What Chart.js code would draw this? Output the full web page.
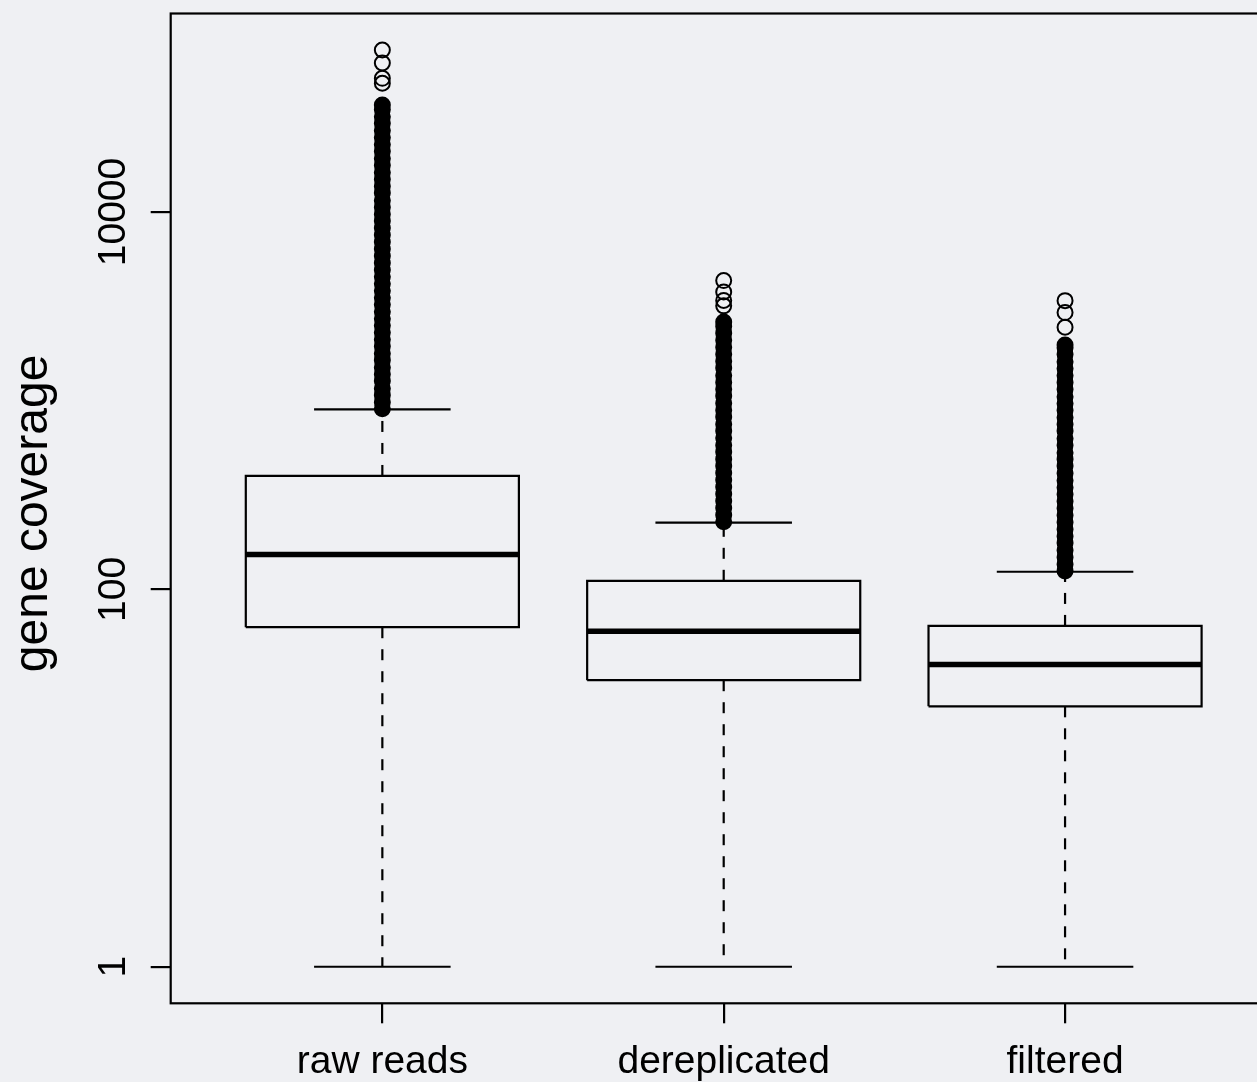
<!DOCTYPE html>
<html>
<head>
<meta charset="utf-8">
<title>gene coverage</title>
<script src="https://cdn.jsdelivr.net/npm/chart.js@4"></script>
<style>
  html, body { margin: 0; padding: 0; background: #eff0f3; overflow: hidden; }
  #wrap { width: 1300px; height: 1082px; position: relative; }
</style>
</head>
<body>
<div id="wrap"><canvas id="chart"></canvas></div>
<script>
// --- data (log scale) ---
const categories   = ['raw reads', 'dereplicated', 'filtered'];
const lowerWhisker = [1, 1, 1];
const q1           = [63, 33, 24];
const median       = [153, 60, 40];
const q3           = [399, 111, 64];
const upperWhisker = [900, 226, 124];

// isolated outliers at the top of each column
const rawSparse   = [72200, 61600, 51100, 48100];
const derepSparse = [4330, 3770, 3400, 3180];
const filtSparse  = [3390, 2930, 2450];

// dense outlier runs (solid black columns)
const rawDense = [906, 980, 1070, 1160, 1270, 1380, 1500, 1640, 1780, 1940, 2110, 2300,
  2500, 2720, 2960, 3230, 3510, 3820, 4160, 4530, 4930, 5370, 5850, 6370, 6930, 7550,
  8220, 8950, 9740, 10600, 11500, 12600, 13700, 14900, 16200, 17700, 19200, 21000,
  22800, 24800, 27000, 29500, 32000, 34900, 36900];
const derepDense = [228, 248, 270, 294, 320, 349, 380, 414, 450, 490, 535, 580, 635, 690,
  750, 820, 890, 970, 1060, 1150, 1250, 1360, 1490, 1620, 1760, 1920, 2090, 2280, 2480, 2610];
const filtDense = [125, 136, 148, 161, 176, 191, 208, 227, 247, 269, 293, 319, 347, 378,
  412, 450, 490, 530, 580, 630, 690, 750, 815, 890, 965, 1050, 1150, 1250, 1360, 1480,
  1610, 1760, 1910, 1970];

const yTicks      = [1, 100, 10000];
const yTickLabels = ['1', '100', '10000'];
const yTitle      = 'gene coverage';

// --- style ---
const INK   = '#000000';
const FONT  = "'Liberation Sans', Arial, Helvetica, sans-serif";
const TICK_SIZE  = 39;
const TITLE_SIZE = 48;
const BOX_HALF = 0.4;
const CAP_HALF = 0.2;

const sparseSets = [rawSparse, derepSparse, filtSparse];
const denseSets  = [rawDense, derepDense, filtDense];

function segment(points, width, dash) {
  return {
    type: 'scatter',
    data: points,
    showLine: true,
    borderColor: INK,
    borderWidth: width,
    borderDash: dash || [],
    pointRadius: 0,
    fill: false,
    tension: 0,
  };
}

function outlierSet(values, cx, filled) {
  return {
    type: 'scatter',
    data: values.map(v => ({ x: cx, y: v })),
    pointStyle: 'circle',
    pointRadius: 7.5,
    pointBorderWidth: 2,
    pointBorderColor: INK,
    pointBackgroundColor: filled ? INK : 'rgba(0,0,0,0)',
    showLine: false,
  };
}

const datasets = [];
categories.forEach((c, i) => {
  datasets.push(outlierSet(sparseSets[i], i + 1, false));
  datasets.push(outlierSet(denseSets[i], i + 1, true));
});
categories.forEach((c, i) => {
  const cx = i + 1;
  // box
  datasets.push(segment([
    { x: cx - BOX_HALF, y: q1[i] }, { x: cx + BOX_HALF, y: q1[i] },
    { x: cx + BOX_HALF, y: q3[i] }, { x: cx - BOX_HALF, y: q3[i] },
    { x: cx - BOX_HALF, y: q1[i] },
  ], 2.2));
  // median
  datasets.push(segment([{ x: cx - BOX_HALF, y: median[i] }, { x: cx + BOX_HALF, y: median[i] }], 5.5));
  // whiskers
  datasets.push(segment([{ x: cx, y: q3[i] }, { x: cx, y: upperWhisker[i] }], 2.2, [11, 11]));
  datasets.push(segment([{ x: cx, y: q1[i] }, { x: cx, y: lowerWhisker[i] }], 2.2, [11, 11]));
  // caps
  datasets.push(segment([{ x: cx - CAP_HALF, y: upperWhisker[i] }, { x: cx + CAP_HALF, y: upperWhisker[i] }], 2.2));
  datasets.push(segment([{ x: cx - CAP_HALF, y: lowerWhisker[i] }, { x: cx + CAP_HALF, y: lowerWhisker[i] }], 2.2));
});

// R-like frame and labels
const rFrame = {
  id: 'rFrame',
  afterDraw(chart) {
    const { ctx, chartArea: a, scales: { x, y } } = chart;
    ctx.save();
    ctx.strokeStyle = INK;
    ctx.lineWidth = 2.2;
    ctx.strokeRect(a.left, a.top, a.right - a.left, a.bottom - a.top);

    ctx.fillStyle = INK;
    ctx.textAlign = 'center';
    ctx.textBaseline = 'alphabetic';
    ctx.font = `${TICK_SIZE}px ${FONT}`;
    categories.forEach((c, i) => {
      ctx.fillText(c, x.getPixelForValue(i + 1), a.bottom + 70);
    });
    yTicks.forEach((v, i) => {
      ctx.save();
      ctx.translate(a.left - 46, y.getPixelForValue(v));
      ctx.rotate(-Math.PI / 2);
      ctx.fillText(yTickLabels[i], 0, 0);
      ctx.restore();
    });

    ctx.font = `${TITLE_SIZE}px ${FONT}`;
    ctx.translate(47, (a.top + a.bottom) / 2 + 5);
    ctx.rotate(-Math.PI / 2);
    ctx.fillText(yTitle, 0, 0);
    ctx.restore();
  },
};

new Chart(document.getElementById('chart'), {
  type: 'scatter',
  data: { datasets },
  options: {
    responsive: true,
    maintainAspectRatio: false,
    animation: false,
    events: [],
    layout: { padding: { top: 13.5, right: 23.3, left: 0, bottom: 0 } },
    plugins: { legend: { display: false }, tooltip: { enabled: false } },
    scales: {
      x: {
        type: 'linear',
        min: 0.38,
        max: 3.62,
        bounds: 'data',
        afterBuildTicks: s => { s.ticks = categories.map((c, i) => ({ value: i + 1 })); },
        afterFit: s => { s.height = 78.7; },
        ticks: { display: false },
        border: { display: false },
        grid: { drawOnChartArea: false, drawTicks: true, tickLength: 20, color: INK, lineWidth: 2.2 },
      },
      y: {
        type: 'logarithmic',
        min: 0.64,
        max: 112700,
        bounds: 'data',
        afterBuildTicks: s => { s.ticks = yTicks.map(v => ({ value: v })); },
        afterFit: s => { s.width = 170.7; },
        ticks: { display: false },
        border: { display: false },
        grid: { drawOnChartArea: false, drawTicks: true, tickLength: 20, color: INK, lineWidth: 2.2 },
      },
    },
  },
  plugins: [rFrame],
});
</script>
</body>
</html>
